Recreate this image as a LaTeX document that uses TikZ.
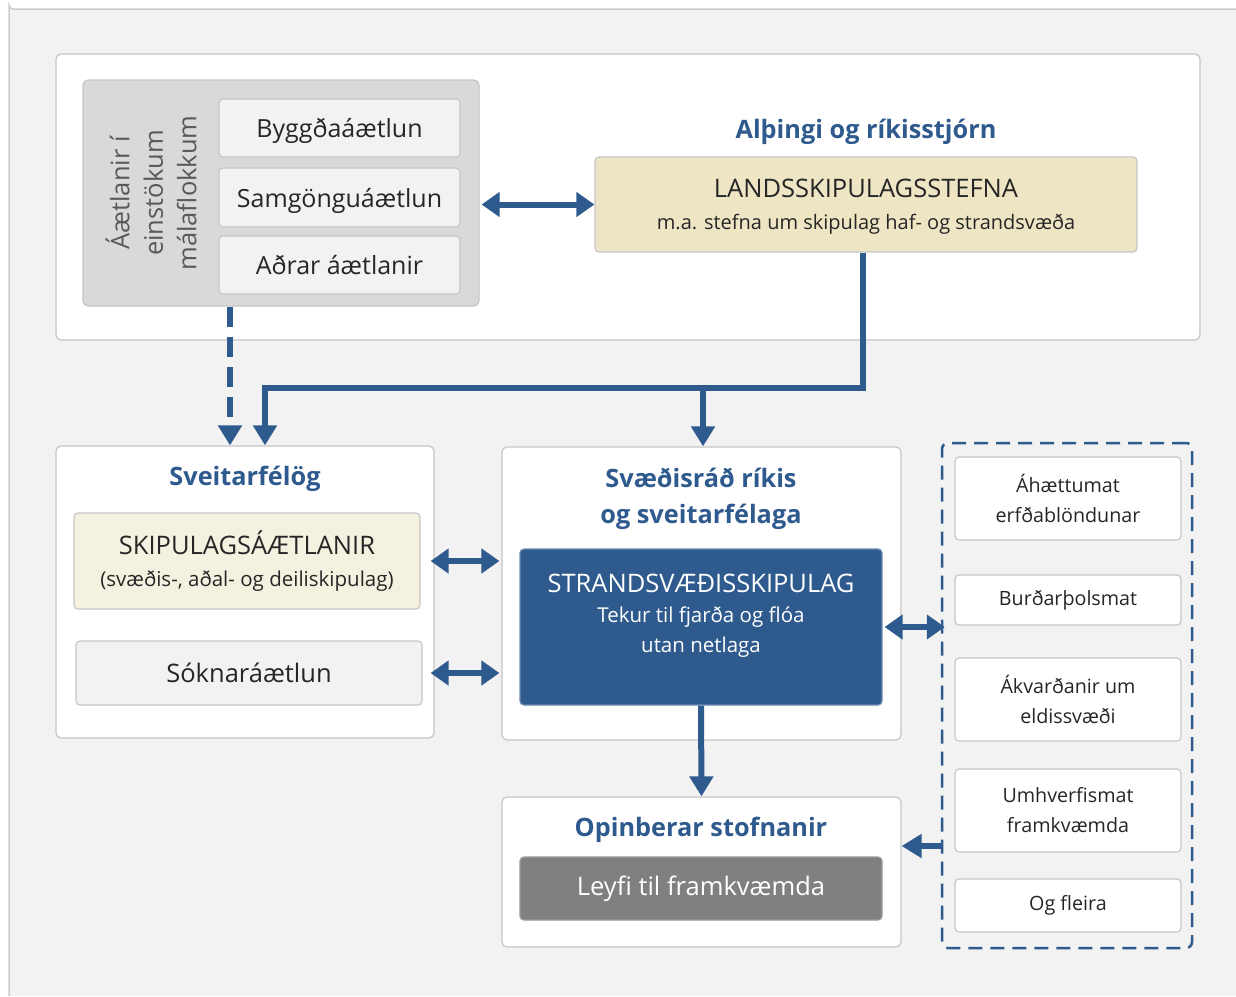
\documentclass[tikz,border=0pt]{standalone}
\usepackage{fontspec}
\setmainfont{Open Sans}
\usepackage{tikz}
\usetikzlibrary{arrows.meta, positioning}

\definecolor{pagebg}{HTML}{F2F2F2}
\definecolor{framegray}{HTML}{CBCBCB}
\definecolor{linegray}{HTML}{C6C6C6}
\definecolor{grpfill}{HTML}{D9D9D9}
\definecolor{subfill}{HTML}{F2F2F2}
\definecolor{beigedark}{HTML}{EDE5C3}
\definecolor{beigelight}{HTML}{F5F1E1}
\definecolor{planblue}{HTML}{2E5A8E}
\definecolor{leyfigray}{HTML}{808080}
\definecolor{textdark}{HTML}{262626}
\definecolor{rotgray}{HTML}{595959}

\begin{document}
\begin{tikzpicture}[x=1pt, y=-1pt,
    every node/.style={font=\fontsize{25.5}{30}\selectfont, text=textdark, inner sep=0pt},
    % Box styles
    panel/.style={rectangle, rounded corners=5pt, draw=linegray, fill=white, line width=1.2pt},
    planbox/.style={rectangle, rounded corners=4pt, draw=linegray, fill=subfill, line width=1.2pt, align=center},
    sectorbox/.style={planbox, minimum width=241pt, text depth=-4pt, font=\fontsize{25}{30}\selectfont},
    sidebox/.style={rectangle, rounded corners=4pt, draw=linegray, fill=white, line width=1.2pt, align=center, minimum width=226pt, font=\fontsize{19.7}{30}\selectfont},
    heading/.style={font=\bfseries\fontsize{25.3}{36}\selectfont, text=planblue, align=center},
    % Arrow styles
    flowline/.style={draw=planblue, line width=6pt},
    flow/.style={flowline, -{Triangle[width=23pt, length=20pt]}},
    twoway/.style={flowline, {Triangle[width=24pt, length=18pt]}-{Triangle[width=24pt, length=18pt]}},
    linkflow/.style={flow, dash pattern=on 20pt off 10pt}
]
\useasboundingbox (0,0) rectangle (1236,996);

% Page frame
\fill[pagebg] (9,9) rectangle (1236,996);
\draw[framegray, line width=1.5pt] (1236,9) -- (13,9) arc[start angle=90, end angle=180, radius=4] -- (9,996);

% National level (Top)
\node[panel, minimum width=1144pt, minimum height=286pt] (national) at (628,197) {};
\node[rectangle, rounded corners=5pt, draw=linegray, fill=grpfill, line width=1.2pt,
      minimum width=396pt, minimum height=226pt] (sector) at (281,193) {};
\node[rotate=90, align=center, text=rotgray, font=\fontsize{25.5}{33.5}\selectfont] (sectorlabel) at (151,193) {Áætlanir í\\einstökum\\málaflokkum};
\node[sectorbox, minimum height=58pt] (byggd) at (339.5,128) {Byggðaáætlun};
\node[sectorbox, minimum height=59pt] (samgong) at (339.5,197.5) {Samgönguáætlun};
\node[sectorbox, minimum height=58pt] (adrar) at (339.5,265) {Aðrar áætlanir};

\node[heading] (althingi) at (866,132) {Alþingi og ríkisstjórn};
\node[planbox, fill=beigedark, minimum width=542pt, minimum height=95pt, text depth=-10pt] (lands) at (866,204.5)
    {LANDSSKIPULAGSSTEFNA\\[2pt]{\fontsize{20}{26}\selectfont m.a. stefna um skipulag haf- og strandsvæða}};

% Municipalities (Left)
\node[panel, minimum width=378pt, minimum height=292pt] (sveit) at (245,592) {};
\node[heading] (sveittitle) at (245,479) {Sveitarfélög};
\node[planbox, fill=beigelight, minimum width=346pt, minimum height=96pt] (skipulag) at (247,561)
    {SKIPULAGSÁÆTLANIR\\[2pt]{\fontsize{20.5}{26}\selectfont (svæðis-, aðal- og deiliskipulag)}};
\node[planbox, minimum width=346pt, minimum height=64pt] (sokn) at (249,673) {Sóknaráætlun};

% Regional councils (Centre)
\node[panel, minimum width=399pt, minimum height=293pt] (svaed) at (701.5,593.5) {};
\node[heading] (svaedtitle) at (701,499) {Svæðisráð ríkis\\og sveitarfélaga};
\node[planbox, fill=planblue, draw=planblue!70, minimum width=362pt, minimum height=156pt] (strand) at (701,627) {};
\node[align=center, text=white] (strandtext) at (701,616)
    {STRANDSVÆÐISSKIPULAG\\{\fontsize{20.5}{34.5}\selectfont Tekur til fjarða og flóa}\\{\fontsize{20.5}{33}\selectfont utan netlaga}};

% Public agencies (Bottom)
\node[panel, minimum width=399pt, minimum height=150pt] (opin) at (701.5,872) {};
\node[heading] (opintitle) at (701,830) {Opinberar stofnanir};
\node[planbox, fill=leyfigray, draw=leyfigray!80, text=white, minimum width=362pt, minimum height=63pt] (leyfi) at (701,888.5) {Leyfi til framkvæmda};

% Assessments (Right)
\node[rectangle, rounded corners=6pt, draw=planblue, line width=2.5pt, dash pattern=on 14pt off 8pt,
      minimum width=250pt, minimum height=505pt] (assess) at (1067,695.5) {};
\node[sidebox, minimum height=83pt] (ahaett) at (1068,498.5) {Áhættumat\\erfðablöndunar};
\node[sidebox, minimum height=50pt] (burd) at (1068,600) {Burðarþolsmat};
\node[sidebox, minimum height=83pt] (akv) at (1068,699.5) {Ákvarðanir um\\eldissvæði};
\node[sidebox, minimum height=83pt] (umhv) at (1068,810.5) {Umhverfismat\\framkvæmda};
\node[sidebox, minimum height=53pt] (fleira) at (1068,905.5) {Og fleira};

% Flows
\coordinate (bus) at (703,388);
\draw[twoway] ([xshift=2pt]sector.east |- lands.west) -- (lands.west);
\draw[flow] ([xshift=-3pt]lands.south) |- (bus) -| ([xshift=20pt]sveit.north);
\draw[flow] (bus) -- (bus |- svaed.north);
\draw[linkflow] ([xshift=-51pt]sector.south) -- ([xshift=-51pt]sector.south |- sveit.north);
\draw[twoway] ([xshift=-4pt]skipulag.east -| sveit.east) -- ([xshift=-2pt]skipulag.east -| svaed.west);
\draw[twoway] ([xshift=-4pt]sokn.east -| sveit.east) -- ([xshift=-2pt]sokn.east -| svaed.west);
\draw[twoway] ([xshift=2pt]strand.east) -- ([xshift=4pt]strand.east -| assess.west);
\draw[flow] (strand.south) -- (opin.north);
\draw[flow] ([yshift=26pt]opin.east -| assess.west) -- ([yshift=26pt]opin.east);

\end{tikzpicture}
\end{document}
